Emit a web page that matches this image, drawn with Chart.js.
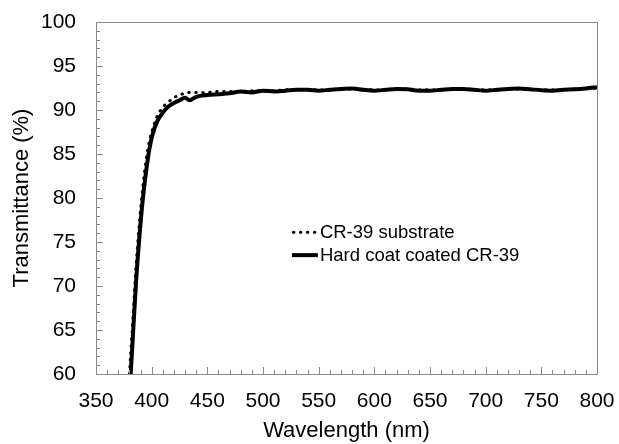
<!DOCTYPE html>
<html>
<head>
<meta charset="utf-8">
<script src="https://cdn.jsdelivr.net/npm/chart.js@4.4.1/dist/chart.umd.min.js"></script>
<style>
	html, body { margin: 0; padding: 0; background: #fff; }
	#wrap { width: 619px; height: 444px; }
</style>
</head>
<body>
<div id="wrap"><canvas id="transmittanceChart" width="619" height="444"></canvas></div>
<script>
// wavelength (nm) and transmittance (%)
const wavelengths = [380, 383, 386, 389, 392, 395, 398, 401, 405, 410, 415, 420, 425, 430, 434, 440,
	450, 460, 470, 480, 490, 500, 510, 520, 530, 540, 550, 560, 570, 580, 590, 600, 610, 620,
	630, 640, 650, 660, 670, 680, 690, 700, 710, 720, 730, 740, 750, 760, 770, 780, 790, 800];

const substrate = [60.0, 66.0, 72.3, 77.2, 81.2, 84.3, 86.5, 87.9, 89.3, 90.3, 90.9, 91.4, 91.7, 91.9, 92.0, 92.0,
	92.0, 92.1, 92.1, 92.1, 92.2, 92.2, 92.2, 92.3, 92.3, 92.3, 92.3, 92.3, 92.4, 92.4, 92.3, 92.3, 92.3, 92.4,
	92.4, 92.3, 92.3, 92.3, 92.4, 92.4, 92.3, 92.3, 92.3, 92.4, 92.4, 92.3, 92.3, 92.3, 92.3, 92.4, 92.4, 92.5];

const hardCoated = [57.5, 64.0, 70.5, 75.6, 79.8, 83.0, 85.6, 87.3, 88.7, 89.7, 90.4, 90.8, 91.1, 91.4, 91.1, 91.5,
	91.7, 91.8, 91.9, 92.1, 92.0, 92.2, 92.1, 92.2, 92.3, 92.3, 92.2, 92.3, 92.4, 92.45, 92.3, 92.2, 92.3, 92.4,
	92.35, 92.2, 92.2, 92.3, 92.4, 92.4, 92.3, 92.2, 92.3, 92.4, 92.45, 92.35, 92.25, 92.2, 92.3, 92.35, 92.45, 92.6];

const seriesLabels = ['CR-39 substrate', 'Hard coat coated CR-39'];
const xTitle = 'Wavelength (nm)';
const yTitle = 'Transmittance (%)';

const xMin = 350, xMax = 800, xStep = 50, xMinorStep = 10;
const yMin = 60, yMax = 100, yStep = 5, yMinorStep = 1;

const fontFamily = '"Liberation Sans", Arial, sans-serif';
const axisColor = '#8a8a8a';

function toPoints(values) {
	return wavelengths.map((w, i) => ({ x: w, y: values[i] }));
}

// frame and inward minor/major ticks, like the spreadsheet original
const axisDecor = {
	id: 'axisDecor',
	afterDatasetsDraw(chart) {
		const { ctx, chartArea: a, scales: { x, y } } = chart;
		ctx.save();
		ctx.strokeStyle = axisColor;
		ctx.lineWidth = 1;
		ctx.strokeRect(Math.round(a.left) + 0.5, Math.round(a.top) + 0.5,
			Math.round(a.right - a.left), Math.round(a.bottom - a.top));
		ctx.beginPath();
		for (let v = yMin + yMinorStep; v < yMax; v += yMinorStep) {
			const py = Math.round(y.getPixelForValue(v)) + 0.5;
			const len = v % yStep === 0 ? 7 : 4;
			ctx.moveTo(a.left, py);
			ctx.lineTo(a.left + len, py);
		}
		for (let v = xMin + xMinorStep; v < xMax; v += xMinorStep) {
			const px = Math.round(x.getPixelForValue(v)) + 0.5;
			const len = v % xStep === 0 ? 7 : 4;
			ctx.moveTo(px, a.bottom);
			ctx.lineTo(px, a.bottom - len);
		}
		ctx.stroke();
		ctx.restore();
	}
};

// legend sits inside the plot, so draw it by hand
const insideLegend = {
	id: 'insideLegend',
	afterDraw(chart) {
		const { ctx, chartArea: a } = chart;
		const left = a.left + (a.right - a.left) * 0.391;
		const top = a.top + (a.bottom - a.top) * 0.597;
		const rowGap = 23;
		const sampleLen = 26;
		ctx.save();
		ctx.font = `18.5px ${fontFamily}`;
		ctx.textBaseline = 'middle';
		ctx.fillStyle = '#000';
		chart.data.datasets.forEach((ds, i) => {
			const yy = top + i * rowGap;
			ctx.beginPath();
			ctx.strokeStyle = ds.borderColor;
			ctx.lineWidth = ds.borderWidth;
			ctx.lineCap = ds.borderCapStyle || 'butt';
			ctx.setLineDash(ds.borderDash || []);
			ctx.moveTo(left + (ds.borderDash ? 1.5 : 0), yy);
			ctx.lineTo(left + sampleLen, yy);
			ctx.stroke();
			ctx.setLineDash([]);
			ctx.fillText(ds.label, left + sampleLen + 2, yy + 1);
		});
		ctx.restore();
	}
};

new Chart(document.getElementById('transmittanceChart'), {
	type: 'line',
	data: {
		datasets: [
			{
				label: seriesLabels[0],
				data: toPoints(substrate),
				borderColor: '#000',
				borderWidth: 3,
				borderDash: [0.5, 6.5],
				borderCapStyle: 'round',
				pointRadius: 0,
				cubicInterpolationMode: 'monotone',
				fill: false
			},
			{
				label: seriesLabels[1],
				data: toPoints(hardCoated),
				borderColor: '#000',
				borderWidth: 4,
				pointRadius: 0,
				cubicInterpolationMode: 'monotone',
				fill: false
			}
		]
	},
	options: {
		responsive: false,
		animation: false,
		layout: {
			padding: { top: 22, right: 22, left: 0, bottom: 0 }
		},
		plugins: {
			legend: { display: false },
			tooltip: { enabled: false }
		},
		scales: {
			x: {
				type: 'linear',
				min: xMin,
				max: xMax,
				afterFit: (scale) => {
					scale.height = 70;
					scale.paddingLeft = 0;
					scale.paddingRight = 0;
				},
				grid: { display: false, drawTicks: false },
				border: { display: false },
				ticks: {
					stepSize: xStep,
					padding: 15,
					color: '#000',
					font: { family: fontFamily, size: 21 }
				},
				title: {
					display: true,
					text: xTitle,
					color: '#000',
					padding: { top: 2, bottom: 0 },
					font: { family: fontFamily, size: 22 }
				}
			},
			y: {
				min: yMin,
				max: yMax,
				afterFit: (scale) => {
					scale.width = 96;
					scale.paddingTop = 0;
					scale.paddingBottom = 0;
				},
				grid: { display: false, drawTicks: false },
				border: { display: false },
				ticks: {
					stepSize: yStep,
					padding: 20,
					color: '#000',
					font: { family: fontFamily, size: 21 }
				},
				title: {
					display: true,
					text: yTitle,
					color: '#000',
					padding: { top: 9, bottom: 0 },
					font: { family: fontFamily, size: 22 }
				}
			}
		}
	},
	plugins: [axisDecor, insideLegend]
});
</script>
</body>
</html>
